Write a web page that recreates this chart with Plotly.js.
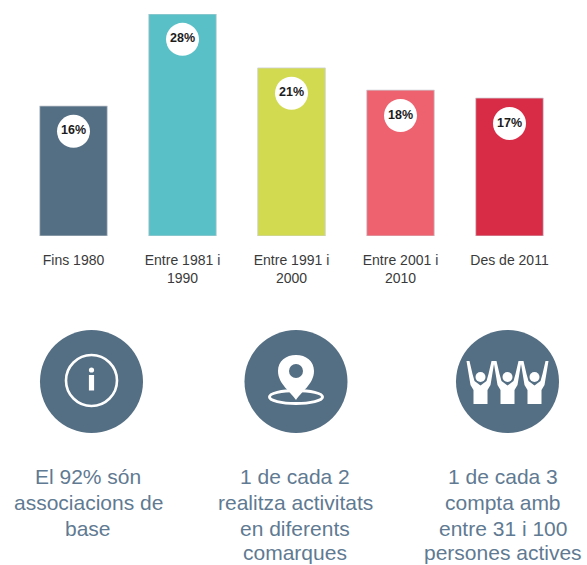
<!DOCTYPE html>
<html>
<head>
<meta charset="utf-8">
<script src="https://cdn.plot.ly/plotly-3.0.1.min.js"></script>
<style>html,body{margin:0;padding:0;background:#fff;overflow:hidden}</style>
</head>
<body>
<div id="chart" style="width:587px;height:565px"></div>
<script>
const W = 587, H = 565;
const categories = ["Fins 1980", "Entre 1981 i<br>1990", "Entre 1991 i<br>2000", "Entre 2001 i<br>2010", "Des de 2011"];
const barLabels = ["16%", "28%", "21%", "18%", "17%"];
const barHeights = [16.4, 28, 21.2, 18.4, 17.4];
const barColors = ["#546e83", "#58c0c6", "#d2da50", "#ee6270", "#d82b45"];
const iconX = [91.5, 296, 507.5];
const iconY = [381.5, 381.5, 381.5];
const captionX = [88, 295, 503];
const captions = [
  ["El 92% són", "associacions de", "base"],
  ["1 de cada 2", "realitza activitats", "en diferents", "comarques"],
  ["1 de cada 3", "compta amb", "entre 31 i 100", "persones actives"]
];
const captionLineY = [476, 502.5, 528, 552.5];
const slate = "#5f7a92";
const iconFill = "#546e83";

const xIdx = categories.map((_, i) => i);
const traces = [
  {type: "bar", x: xIdx, y: barHeights, width: 0.62, xaxis: "x", yaxis: "y",
   marker: {color: barColors, line: {color: "rgba(205,210,215,0.8)", width: 1}}, hoverinfo: "skip"},
  {type: "scatter", mode: "markers+text", x: xIdx, y: barHeights.map(v => v - 3.2), xaxis: "x", yaxis: "y",
   text: barLabels, textposition: "middle center", cliponaxis: false,
   textfont: {family: "Liberation Sans, Arial, sans-serif", size: 12.5, color: "#1c1c1c", weight: 700},
   marker: {size: 33, color: "#ffffff"}, hoverinfo: "skip"},
  {type: "scatter", mode: "markers", x: iconX, y: iconY, xaxis: "x2", yaxis: "y2", cliponaxis: false,
   marker: {size: 103, color: iconFill}, hoverinfo: "skip"}
];

function P(d, fill, stroke, sw) {
  return {type: "path", xref: "x2", yref: "y2", layer: "above", path: d,
    fillcolor: fill || "rgba(0,0,0,0)", line: {color: stroke || "rgba(0,0,0,0)", width: sw || 0}};
}
function E(cx, cy, rx, ry, fill, stroke, sw) {
  return {type: "circle", xref: "x2", yref: "y2", layer: "above", x0: cx - rx, x1: cx + rx, y0: cy - ry, y1: cy + ry,
    fillcolor: fill || "rgba(0,0,0,0)", line: {color: stroke || "rgba(0,0,0,0)", width: sw || 0}};
}
const shapes = [];
// info icon
(function () {
  const cx = iconX[0], cy = iconY[0] - 1;
  shapes.push(E(cx, cy, 25.5, 25.5, null, "#ffffff", 2.6));
  shapes.push(E(cx, cy - 10.5, 2.6, 2.6, "#ffffff"));
  shapes.push(P(`M${cx - 2.6},${cy - 5.5} L${cx + 2.6},${cy - 5.5} L${cx + 2.6},${cy + 10} L${cx - 2.6},${cy + 10} Z`, "#ffffff"));
})();
// pin icon
(function () {
  const cx = iconX[1], cy = 372;
  shapes.push(E(cx, 397, 26.5, 6.5, null, "#ffffff", 3));
  shapes.push(P(`M${cx},${cy + 28} C${cx - 5},${cy + 20} ${cx - 18},${cy + 12} ${cx - 18},${cy - 1} C${cx - 18},${cy - 11} ${cx - 10},${cy - 17} ${cx},${cy - 17} C${cx + 10},${cy - 17} ${cx + 18},${cy - 11} ${cx + 18},${cy - 1} C${cx + 18},${cy + 12} ${cx + 5},${cy + 20} ${cx},${cy + 28} Z`, "#ffffff"));
  shapes.push(E(cx, cy - 1, 7, 7, iconFill));
})();
// people icon
(function () {
  [480.5, 507.5, 534.5].forEach(hx => {
    const hy = 377;
    const pts = [[-14,-16],[-11,-16],[-8,-3],[-6,4],[0,8.5],[6,4],[8,-3],[11,-16],[14,-16],[10,8],[7,13],[7,27],[-7,27],[-7,13],[-10,8]];
    shapes.push(P("M" + pts.map(p => `${hx + p[0]},${hy + p[1]}`).join(" L") + " Z", "#ffffff"));
    shapes.push(E(hx, hy, 5, 5, "#ffffff"));
  });
})();

const annotations = [];
captions.forEach((lines, i) => lines.forEach((t, j) => annotations.push({
  xref: "x2", yref: "y2", x: captionX[i], y: captionLineY[j], text: t, showarrow: false,
  xanchor: "center", yanchor: "middle",
  font: {family: "Liberation Sans, Arial, sans-serif", size: 21, color: slate}
})));

const layout = {
  width: W, height: H, margin: {l: 0, r: 0, t: 0, b: 0},
  paper_bgcolor: "#fff", plot_bgcolor: "rgba(0,0,0,0)", showlegend: false, barmode: "overlay",
  xaxis: {domain: [19 / W, 564 / W], range: [-0.5, 4.5], tickmode: "array", tickvals: xIdx, ticktext: categories,
    showgrid: false, zeroline: false, showline: false, ticks: "outside", ticklen: 11, tickcolor: "rgba(0,0,0,0)",
    tickangle: 0, anchor: "y", fixedrange: true,
    tickfont: {family: "Liberation Sans, Arial, sans-serif", size: 14, color: "#3a3a3a"}},
  yaxis: {domain: [(H - 236) / H, (H - 14) / H], range: [0, 28], visible: false, fixedrange: true},
  xaxis2: {domain: [0, 1], range: [0, W], visible: false, anchor: "y2", fixedrange: true},
  yaxis2: {domain: [0, 1], range: [H, 0], visible: false, anchor: "x2", fixedrange: true},
  shapes, annotations
};
Plotly.newPlot("chart", traces, layout, {displayModeBar: false, staticPlot: true});
</script>
</body>
</html>
